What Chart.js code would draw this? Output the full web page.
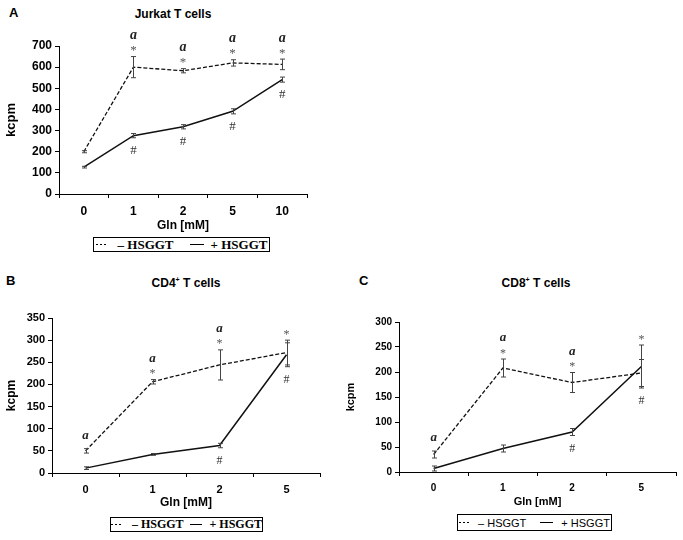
<!DOCTYPE html>
<html>
<head>
<meta charset="utf-8">
<script src="https://cdn.jsdelivr.net/npm/chart.js@4.4.1/dist/chart.umd.min.js"></script>
<style>
  body { margin: 0; width: 683px; height: 540px; position: relative; overflow: hidden; background: #fff;
         font-family: "Liberation Sans", Arial, sans-serif; color: #000; }
  canvas { position: absolute; }
  .letter { position: absolute; font-weight: bold; font-size: 13px; line-height: 1; }
  .title { position: absolute; font-weight: bold; font-size: 12px; line-height: 1; transform: translate(-50%, -50%); white-space: nowrap; }
  .title sup { font-size: 7px; vertical-align: 5px; }
  .legend { position: absolute; box-sizing: border-box; border: 1px solid #000; display: flex; align-items: center;
            justify-content: center; white-space: nowrap; background: #fff; }
  .legend.serif { font-family: "Liberation Serif", "Times New Roman", serif; font-weight: bold; }
  .legend.sans { font-family: "Liberation Sans", Arial, sans-serif; }
  .dash { display: inline-block; height: 1.3px; background: repeating-linear-gradient(90deg, #000 0 2.5px, transparent 2.5px 4px); }
  .solid { display: inline-block; height: 1.5px; background: #000; }
</style>
</head>
<body>

<div class="letter" style="left:9px; top:6px;">A</div>
<div class="title" style="left:173px; top:14px;">Jurkat T cells</div>
<canvas id="jurkatChart" width="340" height="237" style="left:0; top:0;"></canvas>
<div class="legend serif" style="left:93px; top:237px; width:177px; height:15px; font-size:13px;">
  <span class="dash" style="width:12px; margin-right:10px;"></span>– HSGGT
  <span class="solid" style="width:14px; margin:0 7px 0 16px;"></span>+ HSGGT
</div>

<div class="letter" style="left:6px; top:274px;">B</div>
<div class="title" style="left:186px; top:282px;">CD4<sup>+</sup> T cells</div>
<canvas id="cd4Chart" width="340" height="224" style="left:0; top:290px;"></canvas>
<div class="legend serif" style="left:110px; top:517px; width:153px; height:15px; font-size:12px;">
  <span class="dash" style="width:12px; margin-right:9px;"></span>– HSGGT
  <span class="solid" style="width:13px; margin:0 7px 0 6px;"></span>+ HSGGT
</div>

<div class="letter" style="left:359px; top:274px;">C</div>
<div class="title" style="left:536px; top:282px;">CD8<sup>+</sup> T cells</div>
<canvas id="cd8Chart" width="343" height="223" style="left:340px; top:290px;"></canvas>
<div class="legend sans" style="left:457px; top:514px; width:155px; height:17px; font-size:11px;">
  <span class="dash" style="width:11px; margin-right:8px;"></span>– HSGGT
  <span class="solid" style="width:13px; margin:0 8px 0 14px;"></span>+ HSGGT
</div>

<script>
// Jurkat T cells
const jurkatDoses = ["0", "1", "2", "5", "10"];
const jurkatMinus = [200, 600, 583, 620, 613];
const jurkatMinusErr = [5, 50, 10, 15, 25];
const jurkatPlus = [127, 276, 318, 391, 541];
const jurkatPlusErr = [4, 10, 10, 12, 12];
const jurkatSigA = [0, 1, 1, 1, 1];
const jurkatStar = [0, 1, 1, 1, 1];
const jurkatHash = [0, 1, 1, 1, 1];

// CD4+ T cells
const cd4Doses = ["0", "1", "2", "5"];
const cd4Minus = [50, 206, 244, 272];
const cd4MinusErr = [5, 5, 34, 28];
const cd4Plus = [11, 42, 62, 267];
const cd4PlusErr = [3, 2, 5, 27];
const cd4SigA = [1, 1, 1, 0];
const cd4Star = [0, 1, 1, 1];
const cd4Hash = [0, 0, 1, 1];

// CD8+ T cells
const cd8Doses = ["0", "1", "2", "5"];
const cd8Minus = [35, 208, 179, 198];
const cd8MinusErr = [7, 18, 20, 27];
const cd8Plus = [7, 47, 80, 211];
const cd8PlusErr = [5, 7, 7, 43];
const cd8SigA = [1, 1, 1, 0];
const cd8Star = [0, 1, 1, 1];
const cd8Hash = [0, 0, 1, 1];

// draws a glyph centred on (cx, cy) using its real ink box
function glyph(ctx, text, font, color, cx, cy) {
    ctx.font = font;
    ctx.fillStyle = color;
    ctx.textAlign = "center";
    ctx.textBaseline = "alphabetic";
    const m = ctx.measureText(text);
    ctx.fillText(text, cx, cy + (m.actualBoundingBoxAscent - m.actualBoundingBoxDescent) / 2);
}

// error bars + significance marks (a, *, #)
function overlay(cfg) {
    return {
        id: "overlay",
        afterDatasetsDraw(chart) {
            const { ctx, scales: { x, y } } = chart;
            ctx.save();
            ctx.strokeStyle = "#444";
            ctx.lineWidth = 1;
            chart.data.datasets.forEach(ds => {
                ds.data.forEach((v, j) => {
                    const e = ds.errors[j];
                    const px = Math.round(x.getPixelForValue(j)) + 0.5;
                    const t = y.getPixelForValue(v + e), b = y.getPixelForValue(v - e);
                    ctx.beginPath();
                    ctx.moveTo(px, t); ctx.lineTo(px, b);
                    ctx.moveTo(px - 2.5, t); ctx.lineTo(px + 2.5, t);
                    ctx.moveTo(px - 2.5, b); ctx.lineTo(px + 2.5, b);
                    ctx.stroke();
                });
            });
            cfg.labels.forEach((l, j) => {
                const px = x.getPixelForValue(j);
                const top = y.getPixelForValue(Math.max(cfg.minus[j] + cfg.minusErr[j], cfg.plus[j] + cfg.plusErr[j]));
                const bot = y.getPixelForValue(Math.min(cfg.minus[j] - cfg.minusErr[j], cfg.plus[j] - cfg.plusErr[j]));
                let above = top;
                if (cfg.star[j]) {
                    above = top - 8;
                    glyph(ctx, "*", (cfg.markSize + 1) + "px 'Liberation Serif'", "#555", px, above);
                }
                if (cfg.sigA[j]) {
                    glyph(ctx, "a", "italic bold " + (cfg.markSize + 2) + "px 'Liberation Serif'", "#222", px, above - 13);
                }
                if (cfg.hash[j]) {
                    glyph(ctx, "#", (cfg.markSize + 1) + "px 'Liberation Serif'", "#333", px, bot + 12);
                }
            });
            ctx.restore();
        }
    };
}

function renderChart(canvasId, cfg) {
    const el = document.getElementById(canvasId);
    if (!el) return;
    new Chart(el.getContext("2d"), {
        type: "line",
        data: {
            labels: cfg.labels,
            datasets: [
                { label: "– HSGGT", data: cfg.minus, errors: cfg.minusErr, borderColor: "#111", borderWidth: 1.3,
                  borderDash: [4, 2], pointRadius: 0, fill: false, tension: 0 },
                { label: "+ HSGGT", data: cfg.plus, errors: cfg.plusErr, borderColor: "#111", borderWidth: 1.5,
                  pointRadius: 0, fill: false, tension: 0 }
            ]
        },
        options: {
            responsive: false,
            animation: false,
            devicePixelRatio: 1,
            layout: { padding: cfg.padding },
            plugins: { legend: { display: false }, tooltip: { enabled: false } },
            scales: {
                x: {
                    offset: true,
                    grid: { offset: true, drawOnChartArea: false, tickLength: 4, color: "#000" },
                    border: { color: "#000", width: 1 },
                    ticks: { color: "#000", padding: 6, font: { family: "Liberation Sans", weight: "bold", size: cfg.tickSize } },
                    title: { display: true, text: "Gln [mM]", color: "#000",
                             font: { family: "Liberation Sans", weight: "bold", size: cfg.titleSize } },
                    afterFit: s => { s.height = cfg.xHeight; }
                },
                y: {
                    min: 0,
                    max: cfg.max,
                    grid: { drawOnChartArea: false, tickLength: 4, color: "#000" },
                    border: { color: "#000", width: 1 },
                    ticks: { stepSize: cfg.step, color: "#000", padding: 3,
                             font: { family: "Liberation Sans", weight: "bold", size: cfg.tickSize } },
                    title: { display: true, text: "kcpm", color: "#000",
                             font: { family: "Liberation Sans", weight: "bold", size: cfg.kcpmSize } },
                    afterFit: s => { s.width = cfg.yWidth; }
                }
            }
        },
        plugins: [overlay(cfg)]
    });
}

renderChart("jurkatChart", {
    labels: jurkatDoses, minus: jurkatMinus, minusErr: jurkatMinusErr, plus: jurkatPlus, plusErr: jurkatPlusErr,
    sigA: jurkatSigA, star: jurkatStar, hash: jurkatHash,
    max: 700, step: 100, tickSize: 12, titleSize: 12, kcpmSize: 13, markSize: 12,
    yWidth: 59, xHeight: 43, padding: { left: 0, right: 33, top: 46, bottom: 0 }
});

renderChart("cd4Chart", {
    labels: cd4Doses, minus: cd4Minus, minusErr: cd4MinusErr, plus: cd4Plus, plusErr: cd4PlusErr,
    sigA: cd4SigA, star: cd4Star, hash: cd4Hash,
    max: 350, step: 50, tickSize: 11, titleSize: 12, kcpmSize: 12, markSize: 11,
    yWidth: 52, xHeight: 41, padding: { left: 0, right: 20, top: 28, bottom: 0 }
});

renderChart("cd8Chart", {
    labels: cd8Doses, minus: cd8Minus, minusErr: cd8MinusErr, plus: cd8Plus, plusErr: cd8PlusErr,
    sigA: cd8SigA, star: cd8Star, hash: cd8Hash,
    max: 300, step: 50, tickSize: 10, titleSize: 11, kcpmSize: 11, markSize: 11,
    yWidth: 59, xHeight: 41, padding: { left: 0, right: 7, top: 32, bottom: 0 }
});
</script>
</body>
</html>
